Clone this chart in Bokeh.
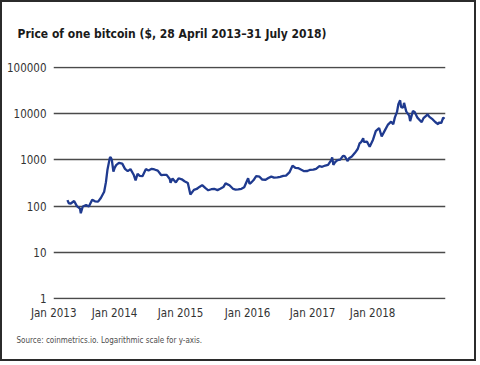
import pandas as pd
from bokeh.plotting import figure
from bokeh.models import Range1d, FixedTicker, PrintfTickFormatter, Title
from bokeh.embed import file_html
from bokeh.resources import INLINE

title_text = "Price of one bitcoin ($, 28 April 2013\u201331 July 2018)"
source_text = "Source: coinmetrics.io. Logarithmic scale for y-axis."

# price series (approximate readings, USD)
dates = [
    "2013-04-28", "2013-05-05", "2013-05-15", "2013-06-01", "2013-06-15", "2013-07-01", "2013-07-05",
    "2013-07-15", "2013-08-01", "2013-08-15", "2013-09-01", "2013-09-15", "2013-10-01", "2013-10-15",
    "2013-11-01", "2013-11-10", "2013-11-18", "2013-11-30", "2013-12-04", "2013-12-10", "2013-12-18",
    "2013-12-25", "2014-01-01", "2014-01-15", "2014-02-01", "2014-02-15", "2014-03-01", "2014-03-15",
    "2014-04-01", "2014-04-10", "2014-04-20", "2014-05-01", "2014-05-15", "2014-06-01", "2014-06-15",
    "2014-07-01", "2014-07-15", "2014-08-01", "2014-08-18", "2014-09-01", "2014-09-15", "2014-10-01",
    "2014-10-05", "2014-10-15", "2014-11-01", "2014-11-15", "2014-12-01", "2014-12-15", "2015-01-01",
    "2015-01-14", "2015-02-01", "2015-02-15", "2015-03-01", "2015-03-15", "2015-04-01", "2015-04-15",
    "2015-05-01", "2015-05-15", "2015-06-01", "2015-06-15", "2015-07-01", "2015-07-12", "2015-08-01",
    "2015-08-20", "2015-09-01", "2015-09-15", "2015-10-01", "2015-10-15", "2015-11-04", "2015-11-11",
    "2015-11-20", "2015-12-01", "2015-12-15", "2016-01-01", "2016-01-15", "2016-02-01", "2016-02-15",
    "2016-03-01", "2016-03-15", "2016-04-01", "2016-04-15", "2016-05-01", "2016-05-15", "2016-06-01",
    "2016-06-17", "2016-07-01", "2016-07-15", "2016-08-01", "2016-08-15", "2016-09-01", "2016-09-15",
    "2016-10-01", "2016-10-15", "2016-11-01", "2016-11-15", "2016-12-01", "2016-12-15", "2017-01-01",
    "2017-01-05", "2017-01-11", "2017-01-20", "2017-02-01", "2017-02-15", "2017-03-01", "2017-03-10",
    "2017-03-25", "2017-04-01", "2017-04-15", "2017-05-01", "2017-05-15", "2017-05-25", "2017-06-01",
    "2017-06-12", "2017-06-15", "2017-07-01", "2017-07-15", "2017-08-01", "2017-08-15", "2017-09-01",
    "2017-09-14", "2017-10-01", "2017-10-15", "2017-11-01", "2017-11-12", "2017-11-20", "2017-12-01",
    "2017-12-08", "2017-12-17", "2017-12-22", "2018-01-01", "2018-01-06", "2018-01-17", "2018-02-01",
    "2018-02-06", "2018-02-20", "2018-03-01", "2018-03-15", "2018-04-01", "2018-04-06", "2018-04-15",
    "2018-05-01", "2018-05-05", "2018-05-15", "2018-06-01", "2018-06-15", "2018-06-29", "2018-07-01",
    "2018-07-15", "2018-07-24", "2018-07-31",
]
prices = [
    135, 115, 114, 129, 100, 88, 70,
    98, 105, 98, 138, 127, 125, 150,
    205, 330, 620, 1120, 1150, 1000, 560,
    680, 770, 860, 830, 640, 570, 630,
    470, 360, 500, 450, 445, 630, 590,
    640, 620, 585, 470, 475, 475, 385,
    320, 395, 325, 400, 380, 345, 315,
    178, 225, 235, 260, 285, 245, 220,
    232, 237, 222, 237, 258, 310, 282,
    235, 228, 230, 237, 255, 400, 305,
    325, 362, 445, 432, 375, 372, 405,
    435, 415, 417, 430, 450, 455, 535,
    750, 675, 665, 610, 570, 575, 610,
    615, 640, 730, 710, 755, 780, 1000,
    1130, 780, 895, 985, 1010, 1220, 1200,
    940, 1090, 1180, 1420, 1720, 2300, 2400,
    2950, 2450, 2480, 1930, 2730, 4180, 4900,
    3200, 4400, 5700, 6700, 5900, 8200, 10900,
    16000, 19400, 13800, 13500, 17100, 11200, 9100,
    6900, 11400, 10900, 8200, 6850, 6600, 8000,
    9200, 9700, 8500, 7500, 6500, 5900, 6350,
    6350, 8200, 7700,
]

y_ticks = [1, 10, 100, 1000, 10000, 100000]
x_tick_labels = ["Jan 2013", "Jan 2014", "Jan 2015", "Jan 2016", "Jan 2017", "Jan 2018"]
# label positions as placed in the source chart
x_tick_dates = ["2013-02-17", "2013-12-24", "2014-11-25", "2015-11-01", "2016-09-27", "2017-07-30"]
x_start, x_end = "2013-02-16", "2018-08-05"
y_start, y_end = 10 ** -0.02, 10 ** 5.02

FONT = "DejaVu Sans Condensed, Roboto Condensed, Roboto, sans-serif"

def ms(s):
    return pd.Timestamp(s).value / 1e6

xs = pd.to_datetime(dates)

p = figure(width=476, height=361, x_axis_type="datetime", y_axis_type="log",
           output_backend="svg", toolbar_location=None,
           x_range=Range1d(ms(x_start), ms(x_end)), y_range=Range1d(y_start, y_end),
           min_border_left=51, min_border_right=33, min_border_top=64, min_border_bottom=64)
p.styles = {"border": "2px solid #2b2b2b"}
p.outline_line_color = None
p.background_fill_color = "white"
p.border_fill_color = "white"

p.line(xs, prices, line_color="#1f3a8f", line_width=2.3)

# axes
xt = [ms(d) for d in x_tick_dates]
p.xaxis.ticker = FixedTicker(ticks=xt)
p.xaxis.major_label_overrides = {t: l for t, l in zip(xt, x_tick_labels)}
p.yaxis.ticker = FixedTicker(ticks=y_ticks)
p.yaxis.formatter = PrintfTickFormatter(format="%d")
for ax in (p.xaxis[0], p.yaxis[0]):
    ax.axis_line_color = None
    ax.major_tick_line_color = None
    ax.minor_tick_line_color = None
    ax.major_tick_out = 0
    ax.major_tick_in = 0
    ax.major_label_text_font = FONT
    ax.major_label_text_font_size = "11.5px"
    ax.major_label_text_color = "#333333"
p.xaxis.major_label_standoff = 6
p.yaxis.major_label_standoff = 7

p.xgrid.grid_line_color = None
p.ygrid.ticker = FixedTicker(ticks=y_ticks)
p.ygrid.grid_line_color = "#4a4a4a"
p.ygrid.grid_line_width = 1.5

p.title.text = title_text
p.title.align = "left"
p.title.vertical_align = "top"
p.title.offset = -36
p.title.standoff = 48
p.title.text_font = FONT
p.title.text_font_style = "bold"
p.title.text_font_size = "12px"
p.title.text_color = "#1a1a1a"

p.add_layout(Title(text=source_text, align="left", offset=-37, standoff=22,
                   text_font=FONT, text_font_style="normal", text_font_size="8px",
                   text_color="#4d4d4d"), "below")

open("out.html", "w").write(file_html(p, INLINE))
